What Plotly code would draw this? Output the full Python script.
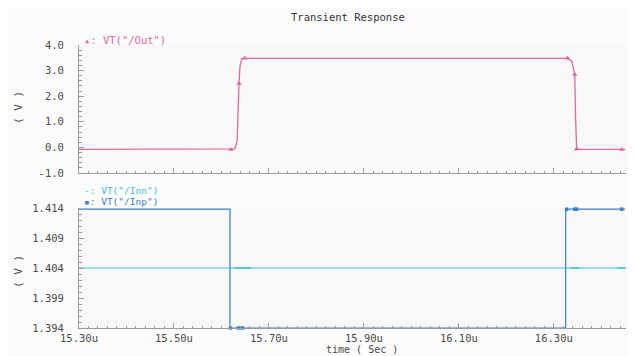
import plotly.graph_objects as go

# ---------------- data (time in microseconds, voltage in V) ----------------
out_t = [15.30, 15.620, 15.628, 15.633, 15.635, 15.637, 15.639, 15.643, 15.649,
         16.329, 16.338, 16.342, 16.344, 16.346, 16.348, 16.353, 16.45]
out_v = [-0.08, -0.08, -0.06, 0.25, 1.81, 2.50, 3.17, 3.48, 3.48,
         3.48, 3.36, 3.05, 2.85, 1.03, -0.02, -0.08, -0.08]
out_mark_t = [15.620, 15.637, 15.649, 16.329, 16.344, 16.348, 16.443]
out_mark_v = [-0.08, 2.50, 3.48, 3.48, 2.85, -0.06, -0.08]

inp_t = [15.30, 15.618, 15.618, 16.325, 16.325, 16.45]
inp_v = [1.4138, 1.4138, 1.3940, 1.3940, 1.4138, 1.4138]
inp_mark_t = [15.619, 15.636, 15.644, 16.327, 16.344, 16.348, 16.443]
inp_mark_v = [1.3940, 1.3940, 1.3940, 1.4138, 1.4138, 1.4138, 1.4138]

inn_t = [15.30, 16.45]
inn_v = [1.404, 1.404]
inn_mark_t = [15.636, 15.654, 16.344, 16.443]
inn_mark_v = [1.404, 1.404, 1.404, 1.404]

x_ticks = [15.30, 15.50, 15.70, 15.90, 16.10, 16.30]
x_ticktext = ["15.30u", "15.50u", "15.70u", "15.90u", "16.10u", "16.30u"]
top_yticks = [-1.0, 0.0, 1.0, 2.0, 3.0, 4.0]
top_yticktext = ["-1.0", "0.0", "1.0", "2.0", "3.0", "4.0"]
bot_yticks = [1.394, 1.399, 1.404, 1.409, 1.414]
bot_yticktext = ["1.394", "1.399", "1.404", "1.409", "1.414"]

PINK = "#dd6b9f"
CYAN = "#3cc4cf"
BLUE = "#3d7fc2"
AX = "#9a9a9a"
TXT = "#4a4a4a"
FONT = "DejaVu Sans Mono"
FS = 10.5

# page body has an 8px offset; layout numbers below are in window pixels
OFF = 8
L, R, T, B = 79 - OFF, 636 - 626 + OFF, 45 - OFF, 356 - 328 + OFF
PW = 636 - L - R
PH = 356 - T - B

fig = go.Figure()

fig.add_trace(go.Scatter(x=out_t, y=out_v, mode="lines", line=dict(color=PINK, width=1.3),
                         xaxis="x", yaxis="y", hoverinfo="skip"))
fig.add_trace(go.Scatter(x=out_mark_t, y=out_mark_v, mode="markers",
                         marker=dict(symbol="triangle-up", size=5, color=PINK),
                         xaxis="x", yaxis="y", hoverinfo="skip"))

fig.add_trace(go.Scatter(x=inn_t, y=inn_v, mode="lines", line=dict(color=CYAN, width=1.2),
                         xaxis="x2", yaxis="y2", hoverinfo="skip"))
fig.add_trace(go.Scatter(x=inn_mark_t, y=inn_mark_v, mode="markers",
                         marker=dict(symbol="line-ew", size=6, line=dict(color=CYAN, width=1.5)),
                         xaxis="x2", yaxis="y2", hoverinfo="skip"))

fig.add_trace(go.Scatter(x=inp_t, y=inp_v, mode="lines", line=dict(color=BLUE, width=1.2),
                         xaxis="x2", yaxis="y2", hoverinfo="skip", cliponaxis=False))
fig.add_trace(go.Scatter(x=inp_mark_t, y=inp_mark_v, mode="markers",
                         marker=dict(symbol="square", size=3.5, color=BLUE),
                         xaxis="x2", yaxis="y2", hoverinfo="skip", cliponaxis=False))

xcommon = dict(range=[15.30, 16.452], showline=True, linecolor=AX, linewidth=1,
               ticks="inside", ticklen=5, tickcolor=AX, tickvals=x_ticks,
               showgrid=False, zeroline=False, automargin=False,
               minor=dict(dtick=0.02, tick0=15.30, ticks="inside", ticklen=2.5, tickcolor=AX, showgrid=False))

top_dom_bottom = 1 - (173 - 45) / PH
bot_dom_top = 1 - (208 - 45) / PH

fig.update_layout(
    width=636, height=356,
    margin=dict(l=L, r=R, t=T, b=B, autoexpand=False),
    paper_bgcolor="#fbfbfb", plot_bgcolor="#f8f8f8",
    showlegend=False,
    font=dict(family=FONT, size=FS, color=TXT),
    xaxis=dict(**xcommon, anchor="y", showticklabels=False),
    xaxis2=dict(**xcommon, anchor="y2", showticklabels=True, ticktext=x_ticktext,
                ticklabelstandoff=0,
                tickfont=dict(family=FONT, size=FS, color=TXT)),
    yaxis=dict(domain=[top_dom_bottom, 1.0], range=[-1.0, 4.0], anchor="x",
               showline=True, linecolor=AX, ticks="inside", ticklen=5, tickcolor=AX,
               tickvals=top_yticks, ticktext=top_yticktext, showgrid=False, zeroline=False,
               ticklabelstandoff=12, automargin=False,
               minor=dict(dtick=0.2, ticks="inside", ticklen=2.5, tickcolor=AX, showgrid=False)),
    yaxis2=dict(domain=[0.0, bot_dom_top], range=[1.394, 1.414], anchor="x2",
                showline=True, linecolor=AX, ticks="inside", ticklen=5, tickcolor=AX,
                tickvals=bot_yticks, ticktext=bot_yticktext, showgrid=False, zeroline=False,
                ticklabelstandoff=12, automargin=False,
                minor=dict(dtick=0.001, ticks="inside", ticklen=2.5, tickcolor=AX, showgrid=False)),
)

ann = [
    dict(text="Transient Response", x=348, y=17, font=dict(size=FS, color="#333333")),
    dict(text="( V )", x=18, y=108, textangle=-90, font=dict(size=11, color=TXT)),
    dict(text="( V )", x=18, y=272, textangle=-90, font=dict(size=11, color=TXT)),
    dict(text="time ( Sec )", x=362, y=349, font=dict(size=10, color=TXT)),
    dict(text="\u25b4: VT(\"/Out\")", x=82, y=40, xanchor="left", font=dict(size=FS, color=PINK)),
    dict(text="-: VT(\"/Inn\")", x=82, y=190, xanchor="left", font=dict(size=9.5, color=CYAN)),
    dict(text="\u25aa: VT(\"/Inp\")", x=82, y=201.5, xanchor="left", font=dict(size=9.5, color=BLUE)),
]
for a in ann:
    xa = a.get("xanchor", "center")
    fig.add_annotation(text=a["text"], xref="paper", yref="paper",
                       x=(a["x"] - OFF - L) / PW, y=1 - (a["y"] - OFF - T) / PH,
                       xanchor=xa, yanchor="middle", showarrow=False,
                       textangle=a.get("textangle", 0), font=dict(family=FONT, **a["font"]))

fig.write_html("out.html")
